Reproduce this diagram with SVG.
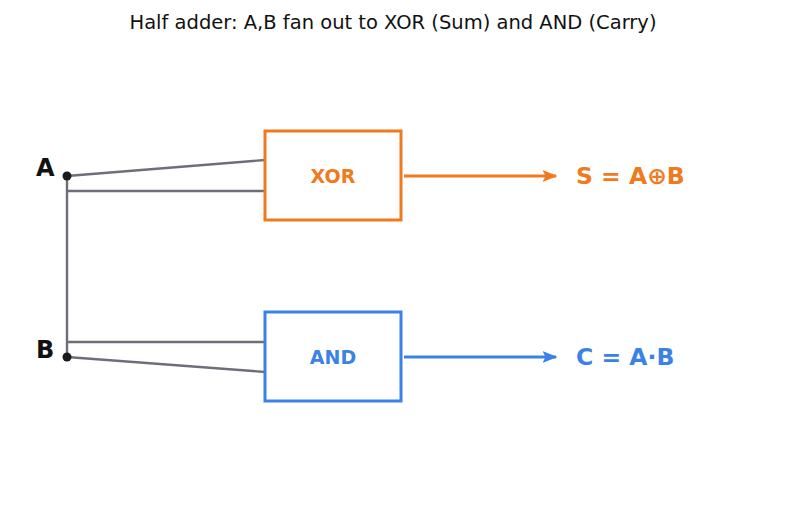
<svg xmlns="http://www.w3.org/2000/svg" width="787" height="507" viewBox="0 0 787 507">
<defs>
<style>
.t{font-family:"DejaVu Sans",sans-serif;}
.w{stroke:#6e6e7a;stroke-width:2.4;fill:none;}
.lbl{font-family:"DejaVu Sans",sans-serif;font-weight:bold;font-size:24px;fill:#111;}
.gate{fill:#fff;stroke-width:3;}
.gt{font-family:"DejaVu Sans",sans-serif;font-weight:bold;font-size:19px;text-anchor:middle;dominant-baseline:central;}
.out{font-family:"DejaVu Sans",sans-serif;font-weight:bold;font-size:23.5px;dominant-baseline:central;}
</style>
<marker id="ao" viewBox="0 0 10 10" refX="9" refY="5" markerWidth="5" markerHeight="5" orient="auto" markerUnits="strokeWidth"><path d="M0,1 L10,5 L0,9 L2,5 z" fill="#f07a1e"/></marker>
<marker id="ab" viewBox="0 0 10 10" refX="9" refY="5" markerWidth="5" markerHeight="5" orient="auto" markerUnits="strokeWidth"><path d="M0,1 L10,5 L0,9 L2,5 z" fill="#3b82e8"/></marker>
</defs>
<rect width="787" height="507" fill="#fff"/>
<text class="t" x="393" y="29" font-size="19.5" text-anchor="middle" fill="#111">Half adder: A,B fan out to XOR (Sum) and AND (Carry)</text>
<g id="connectors">
<path class="w" d="M67,176 L265,160"/>
<path class="w" d="M67,191 L265,191"/>
<path class="w" d="M67,176 L67,357"/>
<path class="w" d="M67,342 L265,342"/>
<path class="w" d="M67,357 L265,372"/>
<path d="M404,176 L556,176" stroke="#f07a1e" stroke-width="3" marker-end="url(#ao)"/>
<path d="M404,357 L556,357" stroke="#3b82e8" stroke-width="3" marker-end="url(#ab)"/>
</g>
<g id="inputA">
<circle cx="67" cy="176" r="4.5" fill="#1a1a1a"/>
<text class="lbl" x="36" y="176">A</text>
</g>
<g id="inputB">
<circle cx="67" cy="357" r="4.5" fill="#1a1a1a"/>
<text class="lbl" x="36" y="358">B</text>
</g>
<g id="xor">
<rect class="gate" x="265" y="131" width="136" height="89" stroke="#f07a1e"/>
<text class="gt" x="333" y="176" fill="#f07a1e">XOR</text>
</g>
<g id="and">
<rect class="gate" x="265" y="312" width="136" height="89" stroke="#3b82e8"/>
<text class="gt" x="333" y="357" fill="#3b82e8">AND</text>
</g>
<g id="sum">
<text class="out" x="576" y="176" fill="#f07a1e">S = A⊕B</text>
</g>
<g id="carry">
<text class="out" x="576" y="357" fill="#3b82e8">C = A·B</text>
</g>
</svg>
